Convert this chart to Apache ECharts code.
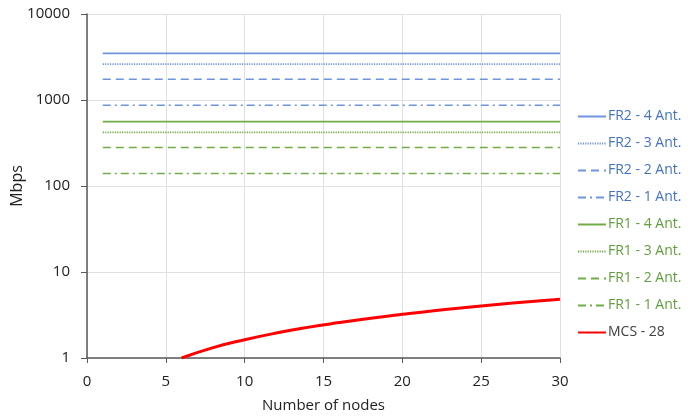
<!DOCTYPE html>
<html><head><meta charset="utf-8">
<script src="https://cdn.jsdelivr.net/npm/echarts@6/dist/echarts.min.js"></script>
<style>html,body{margin:0;padding:0;background:#fff}#c{width:690px;height:419px}</style>
</head><body><div id="c"></div>
<script>
const xRange = [1, 30];
const seriesNames = ['FR2 - 4 Ant.','FR2 - 3 Ant.','FR2 - 2 Ant.','FR2 - 1 Ant.','FR1 - 4 Ant.','FR1 - 3 Ant.','FR1 - 2 Ant.','FR1 - 1 Ant.','MCS - 28'];
const constValues = [3480, 2610, 1740, 870, 560, 420, 280, 140];
const mcsX = [6, 8, 10, 12, 14, 16, 18, 20, 22, 24, 26, 28, 30];
const mcsY = [1.0, 1.32, 1.63, 1.95, 2.27, 2.58, 2.9, 3.22, 3.55, 3.87, 4.2, 4.52, 4.83];
const yTickLabels = ['1', '10', '100', '1000', '10000'];

const blue = '#6f96dc', green = '#70ad47', blueText = '#4472c4', greenText = '#5f9e3a';
const dashes = ['solid', [1.2, 1.2], [8, 5], [8, 4, 2, 4]];
const series = constValues.map((v, i) => ({
  name: seriesNames[i], type: 'line', symbol: 'none', silent: true,
  data: xRange.map(x => [x, v]),
  lineStyle: { color: i < 4 ? blue : green, width: 1.6, type: dashes[i % 4] },
  itemStyle: { color: i < 4 ? blue : green }
}));
series.push({
  name: seriesNames[8], type: 'line', symbol: 'none', smooth: true,
  data: mcsX.map((x, i) => [x, mcsY[i]]),
  lineStyle: { color: '#ff0000', width: 3 }, itemStyle: { color: '#ff0000' }
});

const chart = echarts.init(document.getElementById('c'));
chart.setOption({
  animation: false,
  grid: { left: 87, right: 130, top: 14, bottom: 61, containLabel: false, outerBoundsMode: 'none' },
  legend: {
    orient: 'vertical', left: 577, top: 109, padding: 0, itemWidth: 28, itemHeight: 15, itemGap: 12,
    itemStyle: { opacity: 0 },
    data: seriesNames.map((n, i) => ({ name: n, textStyle: { color: i < 4 ? blueText : (i < 8 ? greenText : '#404040') } })),
    textStyle: { fontFamily: 'Open Sans', fontSize: 14, lineHeight: 15, padding: [0, 0, 0, -3] }
  },
  xAxis: {
    type: 'value', min: 0, max: 30, interval: 5,
    name: 'Number of nodes', nameLocation: 'middle', nameGap: 40, nameMoveOverlap: false,
    nameTextStyle: { color: '#222', fontSize: 15, fontFamily: 'Open Sans' },
    axisLine: { lineStyle: { color: '#595959', width: 1.5 } },
    axisTick: { show: true, length: 5, lineStyle: { color: '#595959' } },
    axisLabel: { color: '#222', fontSize: 15, fontFamily: 'Open Sans', margin: 16 },
    splitLine: { lineStyle: { color: '#e0e0e0' } }
  },
  yAxis: {
    type: 'log', min: 1, max: 10000, logBase: 10,
    name: 'Mbps', nameLocation: 'middle', nameGap: 62, nameRotate: 90, nameMoveOverlap: false,
    nameTextStyle: { color: '#222', fontSize: 16, fontFamily: 'Open Sans', fontWeight: 500 },
    axisLine: { show: true, lineStyle: { color: '#595959', width: 1.5 } },
    axisTick: { show: true, length: 6, lineStyle: { color: '#595959' } },
    axisLabel: { color: '#222', fontSize: 15, fontFamily: 'Open Sans', margin: 17,
      formatter: v => yTickLabels[Math.round(Math.log10(v))] },
    splitLine: { lineStyle: { color: '#e0e0e0' } },
    minorTick: { show: false }
  },
  series
});
</script></body></html>
